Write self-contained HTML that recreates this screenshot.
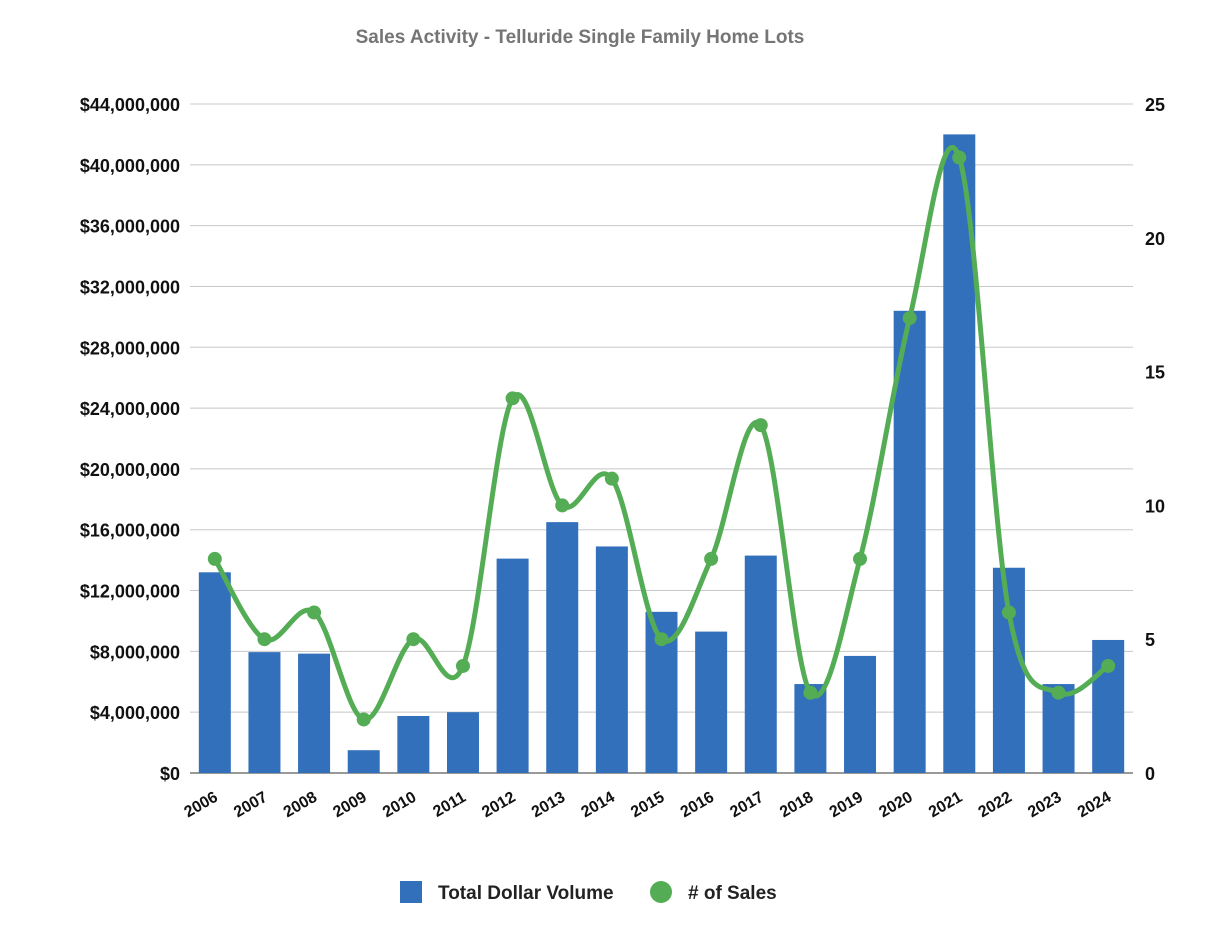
<!DOCTYPE html>
<html><head><meta charset="utf-8"><style>
body{margin:0;background:#fff;}
svg text{font-family:"Liberation Sans",sans-serif;}
</style></head><body>
<svg id="chart" width="1214" height="933" xmlns="http://www.w3.org/2000/svg">
<text x="580" y="43" text-anchor="middle" font-size="19" font-weight="bold" fill="#757575">Sales Activity - Telluride Single Family Home Lots</text>
<g id="grid"></g><g id="bars"></g><g id="line"></g><g id="axes"></g>
<g>
<rect x="400" y="881" width="22" height="22" fill="#3370bb"/>
<text x="438" y="899" font-size="19" font-weight="bold" fill="#222">Total Dollar Volume</text>
<circle cx="661" cy="892" r="11" fill="#54ad55"/>
<text x="688" y="899" font-size="19" font-weight="bold" fill="#222"># of Sales</text>
</g>
</svg>
<script>
const years=["2006","2007","2008","2009","2010","2011","2012","2013","2014","2015","2016","2017","2018","2019","2020","2021","2022","2023","2024"];
const volume=[13.2,7.95,7.85,1.5,3.75,4.0,14.1,16.5,14.9,10.6,9.3,14.3,5.85,7.7,30.4,42.0,13.5,5.85,8.75];
const sales=[8,5,6,2,5,4,14,10,11,5,8,13,3,8,17,23,6,3,4];
const leftTicks=[0,4,8,12,16,20,24,28,32,36,40,44];
const rightTicks=[0,5,10,15,20,25];
const NS="http://www.w3.org/2000/svg";
const x0=190,x1=1133,yb=773,yt=104;
const step=(x1-x0)/years.length;
const xs=i=>x0+step*(i+0.5);
const yL=v=>yb-(v/44)*(yb-yt);
const yR=v=>yb-(v/25)*(yb-yt);
function mk(tag,attrs,parent){const e=document.createElementNS(NS,tag);for(const k in attrs)e.setAttribute(k,attrs[k]);document.getElementById(parent).appendChild(e);return e;}
leftTicks.forEach(t=>{
  const l=mk('line',{x1:x0,x2:x1,y1:yL(t),y2:yL(t),stroke:t===0?'#333':'#c8c8c8','stroke-width':1},'grid');
  
  
  const tx=mk('text',{x:180,y:yL(t)+7,'text-anchor':'end','font-size':18,'font-weight':'bold',fill:'#111'},'axes');
  tx.textContent='$'+(t*1000000).toLocaleString('en-US');
  
  
});
rightTicks.forEach(t=>{
  const tx=mk('text',{x:1145,y:yR(t)+7,'font-size':18,'font-weight':'bold',fill:'#111'},'axes');
  tx.textContent=t;
  
  
});
years.forEach((y,i)=>{
  const r=mk('rect',{x:xs(i)-16,y:yL(volume[i]),width:32,height:yb-yL(volume[i]),fill:'#3370bb'},'bars');
  
  
  const cx=xs(i)+4,cy=800;
  const tx=mk('text',{x:cx,y:cy,'text-anchor':'end','font-size':16,'font-weight':'bold',fill:'#111',transform:`rotate(-30 ${cx} ${cy})`},'axes');
  tx.textContent=y;
  
  
});
const pts=sales.map((v,i)=>[xs(i),yR(v)]);
let d=`M${pts[0][0]},${pts[0][1]}`;
for(let i=0;i<pts.length-1;i++){
  const p0=pts[Math.max(0,i-1)],p1=pts[i],p2=pts[i+1],p3=pts[Math.min(pts.length-1,i+2)];
  const c1=[p1[0]+(p2[0]-p0[0])/6,p1[1]+(p2[1]-p0[1])/6];
  const c2=[p2[0]-(p3[0]-p1[0])/6,p2[1]-(p3[1]-p1[1])/6];
  d+=` C${c1[0]},${c1[1]} ${c2[0]},${c2[1]} ${p2[0]},${p2[1]}`;
}
const path=mk('path',{d:d,fill:'none',stroke:'#54ad55','stroke-width':5},'line');


pts.forEach((p,i)=>{
  const c=mk('circle',{cx:p[0],cy:p[1],r:7,fill:'#54ad55'},'line');
  
  
});
</script>
</body></html>
